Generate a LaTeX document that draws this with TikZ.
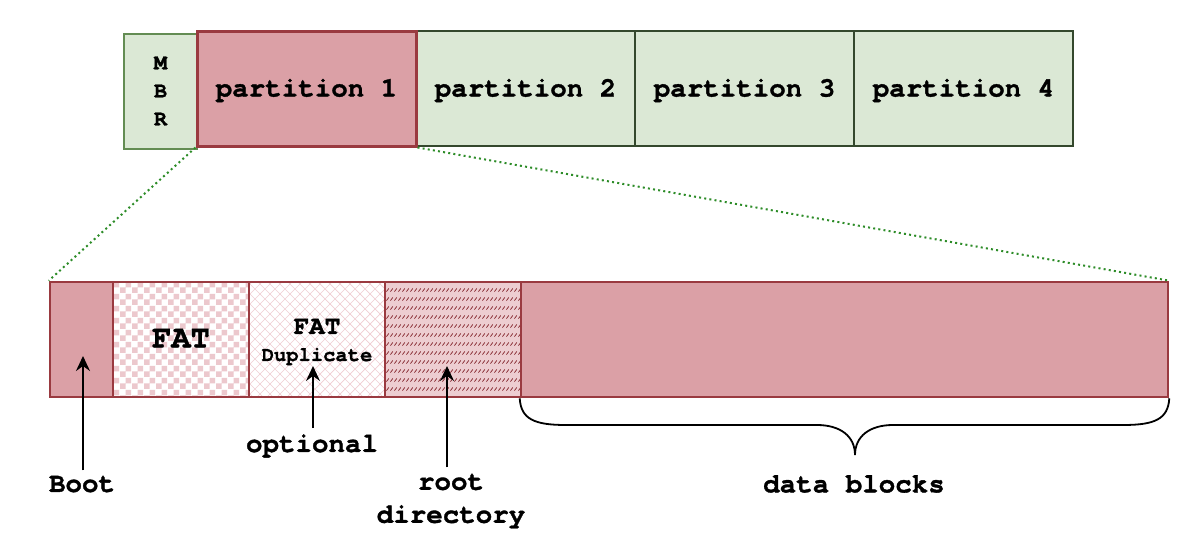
\documentclass[tikz,border=0pt]{standalone}
\usepackage{fontspec}
\setmainfont{TeX Gyre Cursor}[BoldFeatures={FakeBold=1.2}]
\usetikzlibrary{patterns,arrows.meta}
\definecolor{redfill}{RGB}{219,160,166}
\definecolor{redline}{RGB}{154,58,64}
\definecolor{greenfill}{RGB}{219,232,213}
\definecolor{mbrline}{RGB}{99,140,83}
\definecolor{partline}{RGB}{52,72,45}
\definecolor{dotgreen}{RGB}{45,140,40}
\definecolor{checkpink}{RGB}{236,200,205}
\definecolor{hatchpink}{RGB}{240,205,210}
\definecolor{rootfill}{RGB}{237,205,209}
\definecolor{rootdash}{RGB}{130,35,42}

\pgfdeclarepatternformonly{checker}{\pgfqpoint{0pt}{0pt}}{\pgfqpoint{12pt}{12pt}}{\pgfqpoint{12pt}{12pt}}{%
  \pgfpathrectangle{\pgfqpoint{0pt}{0pt}}{\pgfqpoint{6pt}{6pt}}%
  \pgfpathrectangle{\pgfqpoint{6pt}{6pt}}{\pgfqpoint{6pt}{6pt}}%
  \pgfusepath{fill}}
\pgfdeclarepatternformonly{xhatch}{\pgfqpoint{-1pt}{-1pt}}{\pgfqpoint{11pt}{11pt}}{\pgfqpoint{10pt}{10pt}}{%
  \pgfsetlinewidth{0.7pt}%
  \pgfpathmoveto{\pgfqpoint{0pt}{0pt}}\pgfpathlineto{\pgfqpoint{10pt}{10pt}}%
  \pgfpathmoveto{\pgfqpoint{0pt}{10pt}}\pgfpathlineto{\pgfqpoint{10pt}{0pt}}%
  \pgfusepath{stroke}}
\pgfdeclarepatternformonly{slashes}{\pgfqpoint{0pt}{0pt}}{\pgfqpoint{4.2pt}{9pt}}{\pgfqpoint{4.2pt}{9pt}}{%
  \pgfsetlinewidth{0.8pt}%
  \pgfpathmoveto{\pgfqpoint{0.5pt}{1.5pt}}\pgfpathlineto{\pgfqpoint{3.3pt}{5pt}}%
  \pgfusepath{stroke}}

\begin{document}
\begin{tikzpicture}[x=1pt,y=-1pt,
  blk/.style={rectangle, inner sep=0pt, minimum height=115pt, text height=21pt, text depth=5pt,
              font=\bfseries\fontsize{27.5}{30}\selectfont},
  gbox/.style={blk, draw=partline, fill=greenfill, line width=2pt},
  rbox/.style={blk, draw=redline, line width=2.6pt},
  lbl/.style={inner sep=0pt, font=\bfseries\fontsize{27.5}{33}\selectfont, align=center},
  arr/.style={line width=1.5pt, -{Stealth[length=15pt,width=14pt,inset=5pt]}},
  dots/.style={dotgreen, line width=2pt, dash pattern=on 2pt off 3.2pt},
  bracestyle/.style={line width=1.8pt, black}]
\useasboundingbox (0,0) rectangle (1188,544);

% top row
\node[rectangle, inner sep=0pt, minimum height=115pt, draw=mbrline, fill=greenfill, line width=2pt,
      minimum width=73pt, align=center,
      font=\bfseries\fontsize{22}{28}\selectfont] (mbr) at (160.5,91) {M\\B\\R};
\node[gbox, minimum width=219pt] (p2) at (525.5,88.5) {partition 2};
\node[gbox, minimum width=219pt] (p3) at (744.5,88.5) {partition 3};
\node[gbox, minimum width=219pt] (p4) at (963.5,88.5) {partition 4};
\node[blk, draw=redline, fill=redfill, line width=3pt, minimum width=219pt] (p1) at (306.5,88.5) {partition 1};

% bottom row
\node[rbox, fill=redfill, minimum width=63pt] (boot) at (81.5,339.5) {};
\node[rbox, preaction={fill=white}, pattern=checker, pattern color=checkpink,
      minimum width=136pt, font=\bfseries\fontsize{32}{34}\selectfont] (fat) at (181,339.5) {FAT};
\node[rbox, preaction={fill=white}, pattern=xhatch, pattern color=hatchpink,
      minimum width=136pt] (dup) at (317,339.5) {};
\node[rbox, preaction={fill=rootfill}, pattern=slashes, pattern color=rootdash,
      minimum width=136pt] (root) at (453,339.5) {};
\node[rbox, fill=redfill, minimum width=647pt] (data) at (844.5,339.5) {};

\node[inner sep=0pt, align=center, font=\bfseries\fontsize{20.5}{27}\selectfont] (duptxt) at (317,342)
  {{\fontsize{26}{27}\selectfont FAT}\\Duplicate};

% zoom lines
\draw[dots] (p1.south west) -- (boot.north west);
\draw[dots] (p1.south east) -- (data.north east);

% labels
\node[lbl] (bootlbl) at (82,484) {Boot};
\node[lbl] (optlbl) at (312,446) {optional};
\node[lbl] (rootlbl) at (451,501) {root\\directory};
\node[lbl] (datalbl) at (854,484) {data blocks};

\coordinate (boottip) at (83,356);
\coordinate (duptip) at (313,366);
\coordinate (roottip) at (447,366);

\draw[arr] (bootlbl.north -| boottip) ++(0,-5) -- (boottip);
\draw[arr] (optlbl.north -| duptip) ++(0,-6) -- (duptip);
\draw[arr] (rootlbl.north -| roottip) ++(0,-6) -- (roottip);

% brace
\draw[bracestyle] (data.south west) .. controls (521,419) and (534,425) .. (566,425)
  -- (817,425) .. controls (840,425) and (855,436) .. (855,455)
  .. controls (855,436) and (870,425) .. (893,425)
  -- (1123,425) .. controls (1155,425) and (1168,419) .. (data.south east);
\end{tikzpicture}
\end{document}
